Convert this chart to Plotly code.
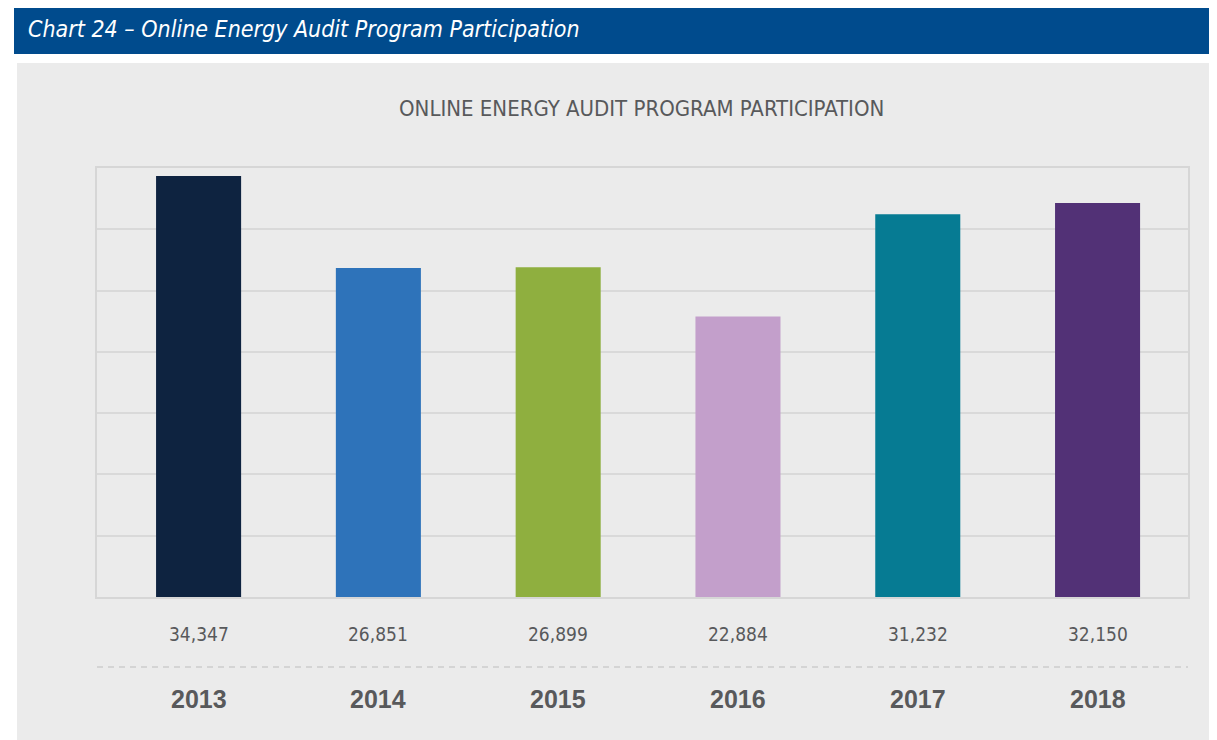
import plotly.graph_objects as go

years = ["2013", "2014", "2015", "2016", "2017", "2018"]
participants = [34347, 26851, 26899, 22884, 31232, 32150]
bar_colors = ["#0E2340", "#2E73BA", "#8FAF3F", "#C39FCB", "#067B93", "#523176"]
value_labels = [f"{v:,}" for v in participants]

header_text = "Chart 24 \u2013 Online Energy Audit Program Participation"
chart_title = "ONLINE ENERGY AUDIT PROGRAM PARTICIPATION"

# page body has an 8px margin, so the figure is drawn 8px smaller and offset
OFF = 8
W, H = 1217 - OFF, 740 - OFF
L, R, T, B = 97 - OFF, 1188 - OFF, 168 - OFF, 597 - OFF
pw, ph = R - L, B - T

def px_x(x):
    return (x - OFF - L) / pw

def px_y(y):
    return (B - (y - OFF)) / ph

GRAY_TEXT = "#58595B"
NARROW = "Liberation Sans Narrow, DejaVu Sans Condensed, Arial Narrow, sans-serif"

fig = go.Figure()
fig.add_trace(go.Bar(
    x=list(range(len(years))),
    y=participants,
    marker=dict(color=bar_colors, line=dict(width=0)),
    width=0.473,
    hoverinfo="skip",
))

shapes = [
    dict(type="rect", xref="paper", yref="paper", layer="below",
         x0=px_x(17), x1=px_x(1220), y0=px_y(745), y1=px_y(63),
         fillcolor="#EBEBEB", line=dict(width=0)),
    dict(type="rect", xref="paper", yref="paper", layer="below",
         x0=px_x(14), x1=px_x(1220), y0=px_y(54), y1=px_y(5),
         fillcolor="#004B8D", line=dict(width=0)),
    dict(type="line", xref="paper", yref="paper",
         x0=0, x1=1, y0=px_y(667), y1=px_y(667),
         line=dict(color="#D4D4D4", width=2, dash="6px,5px")),
]

annotations = [
    dict(text=header_text, xref="paper", yref="paper", x=px_x(26), y=px_y(29),
         xanchor="left", yanchor="middle", showarrow=False,
         font=dict(family=NARROW, size=23, color="white", style="italic")),
    dict(text=chart_title, xref="paper", yref="paper", x=px_x(641.5), y=px_y(108),
         xanchor="center", yanchor="middle", showarrow=False,
         font=dict(family=NARROW, size=22, color=GRAY_TEXT)),
]
for i, (yr, lab) in enumerate(zip(years, value_labels)):
    annotations.append(dict(text=lab, xref="x", yref="paper", x=i, y=px_y(634),
                            xanchor="center", yanchor="middle", showarrow=False,
                            font=dict(family=NARROW, size=19, color=GRAY_TEXT)))
    annotations.append(dict(text=f"<b>{yr}</b>", xref="x", yref="paper", x=i, y=px_y(699),
                            xanchor="center", yanchor="middle", showarrow=False,
                            font=dict(family="Liberation Sans, Arial, sans-serif", size=25,
                                      color=GRAY_TEXT)))

fig.update_layout(
    width=W, height=H,
    margin=dict(l=L, r=W - R, t=T, b=H - B, pad=0),
    paper_bgcolor="white",
    plot_bgcolor="#EBEBEB",
    showlegend=False,
    shapes=shapes,
    annotations=annotations,
    xaxis=dict(range=[-0.565, 5.503], showticklabels=False, showgrid=False, zeroline=False,
               showline=True, linecolor="#D6D6D6", linewidth=2, mirror=True, ticks=""),
    yaxis=dict(range=[0, 35000], dtick=5000, showticklabels=False, showgrid=True,
               gridcolor="#D9D9D9", gridwidth=2, zeroline=False,
               showline=True, linecolor="#D6D6D6", linewidth=2, mirror=True, ticks=""),
)

fig.write_html("out.html")
